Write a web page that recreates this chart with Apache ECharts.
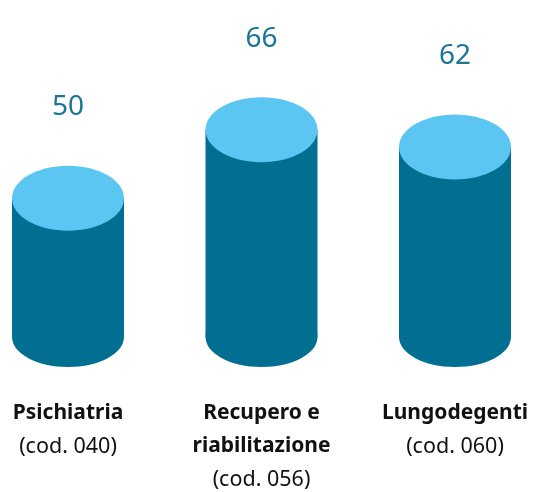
<!DOCTYPE html>
<html>
<head>
<meta charset="utf-8">
<script src="https://cdn.jsdelivr.net/npm/echarts@6/dist/echarts.min.js"></script>
<style>
  html, body { margin: 0; padding: 0; background: #fff; }
  #chart { width: 541px; height: 492px; }
</style>
</head>
<body>
<div id="chart"></div>
<script>
// categorie e valori
const categories = [
  ["Psichiatria", "(cod. 040)"],
  ["Recupero e", "riabilitazione", "(cod. 056)"],
  ["Lungodegenti", "(cod. 060)"]
];
const values = [50, 66, 62];

const BODY = "#006f92";
const TOP = "#5bc6f2";
const LABEL = "#1a7597";
const AXIS_MIN = 17.5;

const chart = echarts.init(document.getElementById("chart"));

function renderCylinder(params, api) {
  const top = api.coord([api.value(0), api.value(1)]);
  const base = api.coord([api.value(0), AXIS_MIN]);
  const cx = top[0];
  const rx = 56;
  return {
    type: "group",
    children: [
      {
        type: "ellipse",
        shape: { cx: cx, cy: base[1], rx: rx, ry: 30 },
        style: { fill: BODY }
      },
      {
        type: "rect",
        shape: { x: cx - rx, y: top[1], width: rx * 2, height: base[1] - top[1] },
        style: { fill: BODY }
      },
      {
        type: "ellipse",
        shape: { cx: cx, cy: top[1], rx: rx, ry: 32.5 },
        style: { fill: TOP }
      },
      {
        type: "text",
        x: cx,
        y: top[1] - 91,
        style: {
          text: String(api.value(1)),
          fill: LABEL,
          fontSize: 28,
          fontFamily: "Noto Sans",
          fontWeight: "normal",
          align: "center",
          verticalAlign: "middle"
        }
      }
    ]
  };
}

const option = {
  animation: false,
  grid: { left: 68, right: 86, top: 70, bottom: 155 },
  xAxis: {
    type: "category",
    boundaryGap: false,
    data: categories.map((c, i) => String(i)),
    axisLine: { show: false },
    axisTick: { show: false },
    axisLabel: {
      margin: 60,
      interval: 0,
      formatter: (v) => {
        const lines = categories[+v];
        const last = lines.length - 1;
        return lines.map((l, j) => (j < last ? "{b|" + l + "}" : "{n|" + l + "}")).join("\n");
      },
      rich: {
        b: { fontSize: 21, fontWeight: "bold", fontFamily: "Noto Sans", color: "#111", lineHeight: 33 },
        n: { fontSize: 21.5, fontFamily: "Noto Sans", color: "#111", lineHeight: 33 }
      }
    }
  },
  yAxis: {
    type: "value",
    min: AXIS_MIN,
    max: 80,
    show: false
  },
  series: [
    {
      type: "custom",
      renderItem: renderCylinder,
      data: values.map((v, i) => [i, v])
    }
  ]
};

chart.setOption(option);
</script>
</body>
</html>
